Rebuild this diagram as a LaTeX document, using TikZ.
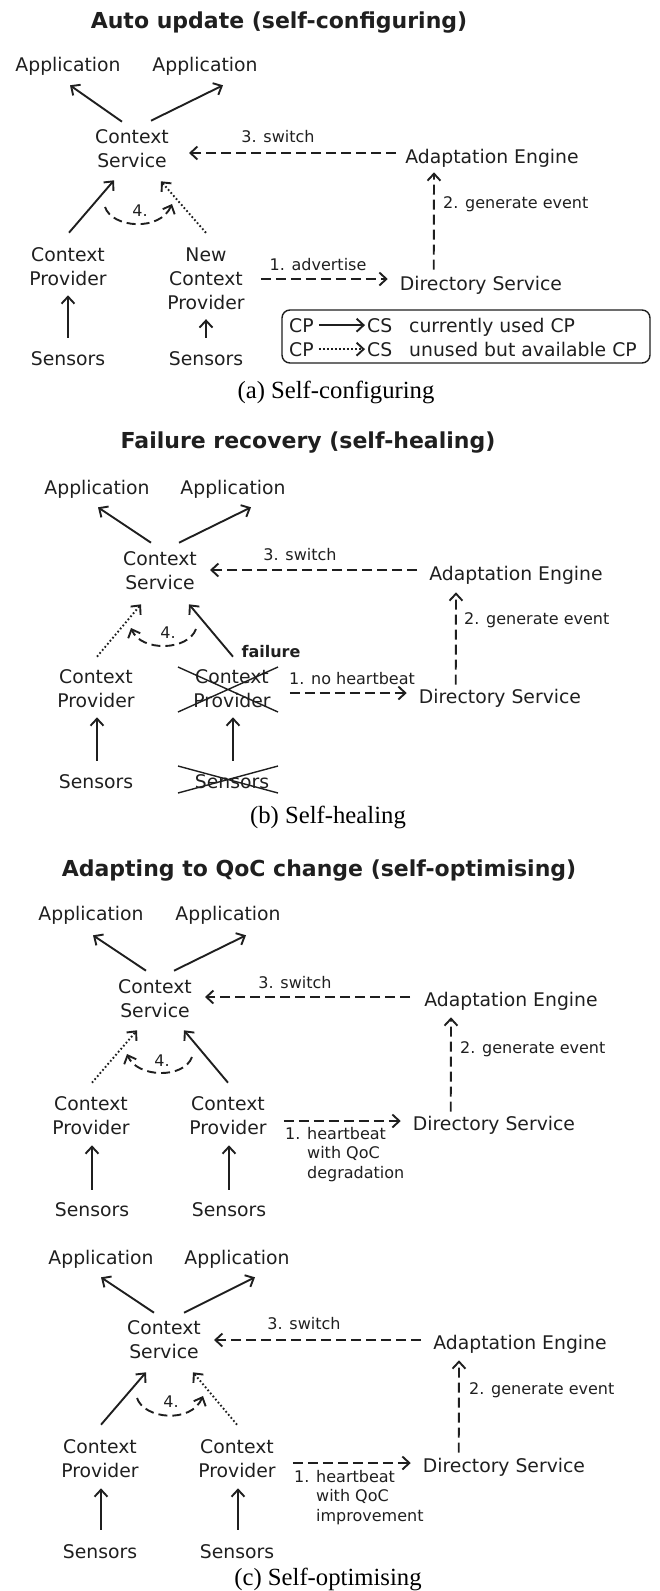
\documentclass[tikz,border=0pt]{standalone}
\usepackage{fontspec}
\setmainfont{DejaVu Sans}
\newfontfamily\capfont{Liberation Serif}
\usetikzlibrary{arrows.meta}
\definecolor{ink}{gray}{0.12}
\tikzset{
  txt/.style={font=\fontsize{18.8}{24}\selectfont, align=center, inner sep=0pt, text=ink},
  lbl/.style={font=\fontsize{16}{19.5}\selectfont, inner sep=0pt, text=ink},
  ttl/.style={font=\fontsize{22}{26}\selectfont\bfseries, anchor=base, inner sep=0pt, text=ink},
  capt/.style={font=\capfont\fontsize{24.7}{28}\selectfont, anchor=base, inner sep=0pt},
  conn/.style={->, line width=1.9pt, draw=ink},
  dconn/.style={conn, dash pattern=on 10pt off 5pt},
  pconn/.style={conn, dash pattern=on 1.7pt off 2.3pt},
  cconn/.style={conn, dash pattern=on 9pt off 5pt},
  xline/.style={line width=1.4pt, draw=ink}
}
\begin{document}
\begin{tikzpicture}[x=1pt,y=-1pt,>={Straight Barb[length=7pt,width=13pt]}]
\useasboundingbox (0,0) rectangle (659,1591);

% (a) self-configuring
\node[ttl] (a-title) at (279,28) {Auto update (self-configuring)};
\node[txt] (a-app1) at (68,66) {Application};
\node[txt] (a-app2) at (205,66) {Application};
\node[txt] (a-cs) at (132,149) {Context\\Service};
\node[txt] (a-ae) at (492,158) {Adaptation Engine};
\node[txt] (a-cp) at (68,267) {Context\\Provider};
\node[txt] (a-ncp) at (206,279) {New\\Context\\Provider};
\node[txt] (a-ds) at (481,285) {Directory Service};
\node[txt] (a-sen1) at (68,359) {Sensors};
\node[txt] (a-sen2) at (206,359) {Sensors};
\node[lbl] (a-sw) at (278,137) {3. switch};
\node[lbl,anchor=west] (a-ge) at (443,204) {2. generate event};
\node[lbl] (a-adv) at (318,265) {1. advertise};
\node[lbl] (a-four) at (140,211) {4.};
\coordinate (a-s4) at (105,207);
\coordinate (a-e4) at (172,204);
\draw[conn] ([xshift=-10pt,yshift=8pt]a-cs.north) -- ([xshift=2pt,yshift=-10pt]a-app1.south);
\draw[conn] ([xshift=19pt,yshift=9pt]a-cs.north) -- ([xshift=18pt,yshift=-10pt]a-app2.south);
\draw[dconn] ([xshift=-9pt,yshift=5pt]a-ae.west) -- ([xshift=20pt,yshift=-4pt]a-cs.east);
\draw[dconn] ([xshift=34pt,yshift=6pt]a-ds.north west) -- ([xshift=-58pt,yshift=-5pt]a-ae.south);
\draw[dconn] ([xshift=16pt]a-ncp.east) -- ([xshift=-12pt,yshift=6pt]a-ds.west);
\draw[conn] ([xshift=1pt,yshift=15pt]a-cp.north) -- ([xshift=-18pt,yshift=-12pt]a-cs.south);
\draw[pconn] ([yshift=15pt]a-ncp.north) -- ([xshift=29pt,yshift=-13pt]a-cs.south);
\draw[cconn] (a-s4) .. controls +(7,21) and +(-12,28) .. (a-e4);
\draw[conn] ([yshift=14pt]a-sen1.north) -- ([yshift=-9pt]a-cp.south);
\draw[conn] ([yshift=14pt]a-sen2.north) -- ([yshift=-9pt]a-ncp.south);
% legend
\draw[line width=1.4pt, draw=ink, rounded corners=8pt] (282,310) rectangle (650,363);
\node[txt,anchor=base west] (a-lcp1) at (289,332) {CP};
\node[txt,anchor=base west] (a-lcs1) at (367,332) {CS};
\node[txt,anchor=base west] (a-lt1) at (409,332) {currently used CP};
\node[txt,anchor=base west] (a-lcp2) at (289,356) {CP};
\node[txt,anchor=base west] (a-lcs2) at (367,356) {CS};
\node[txt,anchor=base west] (a-lt2) at (409,356) {unused but available CP};
\draw[conn] ([xshift=5pt]a-lcp1.east) -- ([xshift=-2pt]a-lcs1.west);
\draw[pconn] ([xshift=5pt]a-lcp2.east) -- ([xshift=-2pt]a-lcs2.west);
\node[capt] (a-cap) at (336,398) {(a) Self-configuring};

% (b) self-healing
\node[ttl] (b-title) at (308,448) {Failure recovery (self-healing)};
\node[txt] (b-app1) at (97,489) {Application};
\node[txt] (b-app2) at (233,489) {Application};
\node[txt] (b-cs) at (160,571) {Context\\Service};
\node[txt] (b-ae) at (516,575) {Adaptation Engine};
\node[txt] (b-cp1) at (96,689) {Context\\Provider};
\node[txt] (b-cp2) at (232,689) {Context\\Provider};
\node[txt] (b-ds) at (500,698) {Directory Service};
\node[txt] (b-sen1) at (96,782) {Sensors};
\node[txt] (b-sen2) at (232,782) {Sensors};
\node[lbl] (b-sw) at (300,555) {3. switch};
\node[lbl,anchor=west] (b-ge) at (464,620) {2. generate event};
\node[lbl] (b-nh) at (352,679) {1. no heartbeat};
\node[lbl,font=\fontsize{16}{19.5}\selectfont\bfseries] (b-fail) at (271,652) {failure};
\node[lbl] (b-four) at (168,633) {4.};
\coordinate (b-s4) at (196,629);
\coordinate (b-e4) at (131,628);
\draw[conn] ([xshift=-9pt,yshift=9pt]b-cs.north) -- ([xshift=1pt,yshift=-9pt]b-app1.south);
\draw[conn] ([xshift=19pt,yshift=9pt]b-cs.north) -- ([xshift=18pt,yshift=-9pt]b-app2.south);
\draw[dconn] ([xshift=-12pt,yshift=5pt]b-ae.west) -- ([xshift=13pt,yshift=1pt]b-cs.east);
\draw[dconn] ([xshift=37pt,yshift=4pt]b-ds.north west) -- ([xshift=-60pt,yshift=-8pt]b-ae.south);
\draw[dconn] ([xshift=19pt,yshift=-4pt]b-cp2.east) -- ([xshift=-12pt,yshift=5pt]b-ds.west);
\draw[pconn] ([xshift=1pt,yshift=13pt]b-cp1.north) -- ([xshift=-19pt,yshift=-14pt]b-cs.south);
\draw[conn] ([xshift=1pt,yshift=13pt]b-cp2.north) -- ([xshift=29pt,yshift=-14pt]b-cs.south);
\draw[cconn] (b-s4) .. controls +(-8,22) and +(10,24) .. (b-e4);
\draw[conn] ([xshift=1pt,yshift=14pt]b-sen1.north) -- ([xshift=1pt,yshift=-9pt]b-cp1.south);
\draw[conn] ([xshift=1pt,yshift=14pt]b-sen2.north) -- ([xshift=1pt,yshift=-9pt]b-cp2.south);
% crossed out provider and sensors
\draw[xline] (178,667) -- (278,712) (178,712) -- (278,667);
\draw[xline] (178,766) -- (278,793) (178,793) -- (278,766);
\node[capt] (b-cap) at (328,823) {(b) Self-healing};

% (c) self-optimising, degradation
\node[ttl] (c-title) at (319,876) {Adapting to QoC change (self-optimising)};
\node[txt] (c-app1) at (91,915) {Application};
\node[txt] (c-app2) at (228,915) {Application};
\node[txt] (c-cs) at (155,999) {Context\\Service};
\node[txt] (c-ae) at (511,1001) {Adaptation Engine};
\node[txt] (c-cp1) at (91,1116) {Context\\Provider};
\node[txt] (c-cp2) at (228,1116) {Context\\Provider};
\node[txt] (c-ds) at (494,1125) {Directory Service};
\node[txt] (c-sen1) at (92,1210) {Sensors};
\node[txt] (c-sen2) at (229,1210) {Sensors};
\node[lbl] (c-sw) at (295,983) {3. switch};
\node[lbl,anchor=west] (c-ge) at (460,1049) {2. generate event};
\node[lbl,align=left,anchor=north west] (c-hb) at (285,1127) {1. heartbeat\\\hspace*{22pt}with QoC\\\hspace*{22pt}degradation};
\node[lbl] (c-four) at (162,1061) {4.};
\coordinate (c-s4) at (192,1057);
\coordinate (c-e4) at (127,1054);
\draw[conn] ([xshift=-9pt,yshift=9pt]c-cs.north) -- ([xshift=2pt,yshift=-11pt]c-app1.south);
\draw[conn] ([xshift=19pt,yshift=9pt]c-cs.north) -- ([xshift=18pt,yshift=-11pt]c-app2.south);
\draw[dconn] ([xshift=-14pt,yshift=4pt]c-ae.west) -- ([xshift=13pt,yshift=2pt]c-cs.east);
\draw[dconn] ([xshift=38pt,yshift=4pt]c-ds.north west) -- ([xshift=-60pt,yshift=-7pt]c-ae.south);
\draw[dconn] ([xshift=17pt,yshift=-5pt]c-cp2.east) -- ([xshift=-12pt,yshift=4pt]c-ds.west);
\draw[pconn] ([xshift=1pt,yshift=14pt]c-cp1.north) -- ([xshift=-18pt,yshift=-12pt]c-cs.south);
\draw[conn] ([yshift=14pt]c-cp2.north) -- ([xshift=29pt,yshift=-12pt]c-cs.south);
\draw[cconn] (c-s4) .. controls +(-8,22) and +(10,24) .. (c-e4);
\draw[conn] ([yshift=13pt]c-sen1.north) -- ([xshift=1pt,yshift=-10pt]c-cp1.south);
\draw[conn] ([yshift=13pt]c-sen2.north) -- ([xshift=1pt,yshift=-10pt]c-cp2.south);

% (c) self-optimising, improvement
\node[txt] (d-app1) at (101,1259) {Application};
\node[txt] (d-app2) at (237,1259) {Application};
\node[txt] (d-cs) at (164,1340) {Context\\Service};
\node[txt] (d-ae) at (520,1344) {Adaptation Engine};
\node[txt] (d-cp1) at (100,1459) {Context\\Provider};
\node[txt] (d-cp2) at (237,1459) {Context\\Provider};
\node[txt] (d-ds) at (504,1467) {Directory Service};
\node[txt] (d-sen1) at (100,1552) {Sensors};
\node[txt] (d-sen2) at (237,1552) {Sensors};
\node[lbl] (d-sw) at (304,1324) {3. switch};
\node[lbl,anchor=west] (d-ge) at (469,1390) {2. generate event};
\node[lbl,align=left,anchor=north west] (d-hb) at (294,1470) {1. heartbeat\\\hspace*{22pt}with QoC\\\hspace*{22pt}improvement};
\node[lbl] (d-four) at (171,1402) {4.};
\coordinate (d-s4) at (137,1398);
\coordinate (d-e4) at (203,1396);
\draw[conn] ([xshift=-10pt,yshift=8pt]d-cs.north) -- ([yshift=-9pt]d-app1.south);
\draw[conn] ([xshift=20pt,yshift=8pt]d-cs.north) -- ([xshift=18pt,yshift=-9pt]d-app2.south);
\draw[dconn] ([xshift=-12pt,yshift=4pt]d-ae.west) -- ([xshift=13pt]d-cs.east);
\draw[dconn] ([xshift=36pt,yshift=5pt]d-ds.north west) -- ([xshift=-61pt,yshift=-7pt]d-ae.south);
\draw[dconn] ([xshift=17pt,yshift=-4pt]d-cp2.east) -- ([xshift=-12pt,yshift=4pt]d-ds.west);
\draw[conn] ([xshift=1pt,yshift=15pt]d-cp1.north) -- ([xshift=-18pt,yshift=-13pt]d-cs.south);
\draw[pconn] ([yshift=15pt]d-cp2.north) -- ([xshift=29pt,yshift=-13pt]d-cs.south);
\draw[cconn] (d-s4) .. controls +(7,21) and +(-12,28) .. (d-e4);
\draw[conn] ([xshift=1pt,yshift=15pt]d-sen1.north) -- ([xshift=1pt,yshift=-10pt]d-cp1.south);
\draw[conn] ([xshift=1pt,yshift=15pt]d-sen2.north) -- ([xshift=1pt,yshift=-10pt]d-cp2.south);
\node[capt] (d-cap) at (328,1585) {(c) Self-optimising};
\end{tikzpicture}
\end{document}
